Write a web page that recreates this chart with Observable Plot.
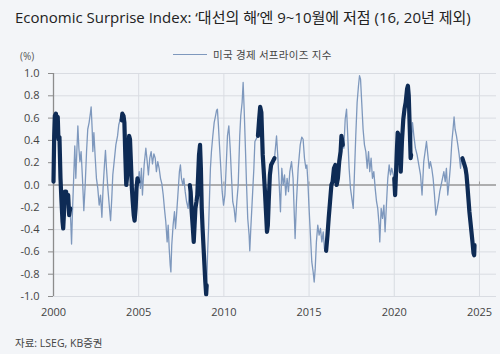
<!DOCTYPE html>
<html>
<head>
<meta charset="utf-8">
<script src="https://cdn.jsdelivr.net/npm/d3@7"></script>
<script src="https://cdn.jsdelivr.net/npm/@observablehq/plot@0.6"></script>
<style>
  body { margin: 0; background: #f3f5f8; }
  #wrap { position: relative; width: 500px; height: 354px; overflow: hidden;
          font-family: "Open Sans", "Noto Sans CJK KR", sans-serif; color: #333; }
  #title { position: absolute; left: 15px; top: 6px; font-size: 15px; white-space: nowrap; color: #222; }
  #unit { position: absolute; left: 20px; top: 49px; font-size: 10px; color: #555; }
  #legend { position: absolute; left: 173px; top: 47px; font-size: 10.5px; color: #444;
            display: flex; align-items: center; white-space: nowrap; letter-spacing: 0.3px; }
  #legend .sw { width: 34px; height: 0; border-top: 1.4px solid #7e98bd; margin-right: 6px; }
  #chart { position: absolute; left: 0; top: 62px; }
  #source { position: absolute; left: 15px; top: 335px; font-size: 10.5px; color: #444; }
</style>
</head>
<body>
<div id="wrap">
  <div id="title">Economic Surprise Index: ‘대선의 해’엔 9~10월에 저점 (16, 20년 제외)</div>
  <div id="unit">(%)</div>
  <div id="legend"><span class="sw"></span><span>미국 경제 서프라이즈 지수</span></div>
  <div id="chart"></div>
  <div id="source">자료: LSEG, KB증권</div>
</div>
<script>
// US economic surprise index (decimal year, index level)
const years = [
  2000.00,2000.04,2000.08,2000.14,2000.20,2000.25,2000.29,2000.35,2000.41,2000.47,2000.53,2000.57,2000.63,2000.67,2000.74,2000.80,2000.86,2000.92,2000.98,
  2001.02,2001.06,2001.12,2001.17,2001.25,2001.31,2001.37,2001.43,2001.49,2001.55,2001.62,2001.70,2001.78,2001.86,2001.94,
  2002.01,2002.09,2002.17,2002.21,2002.27,2002.31,2002.37,2002.45,2002.52,2002.60,2002.68,2002.76,2002.84,2002.91,2002.99,
  2003.05,2003.11,2003.19,2003.27,2003.35,2003.42,2003.48,2003.56,2003.66,2003.76,2003.83,2003.92,
  2004.00,2004.04,2004.11,2004.16,2004.22,2004.27,2004.33,2004.38,2004.44,2004.49,2004.55,2004.60,2004.65,2004.71,2004.76,2004.82,2004.87,2004.93,2004.98,
  2005.03,2005.10,2005.16,2005.22,2005.32,2005.42,2005.50,2005.57,2005.65,2005.73,2005.81,2005.89,2005.97,
  2006.04,2006.12,2006.20,2006.28,2006.36,2006.44,2006.51,2006.59,2006.67,2006.73,2006.79,2006.85,2006.89,2006.94,
  2007.02,2007.10,2007.16,2007.22,2007.30,2007.39,2007.45,2007.51,2007.59,2007.65,2007.73,2007.81,2007.90,
  2008.00,2008.05,2008.11,2008.18,2008.23,2008.28,2008.33,2008.39,2008.44,2008.49,2008.54,2008.60,2008.65,2008.70,2008.75,2008.81,2008.86,2008.91,2008.96,2008.99,
  2009.04,2009.10,2009.16,2009.21,2009.27,2009.35,2009.43,2009.51,2009.57,2009.62,2009.68,2009.74,2009.82,2009.90,2009.98,
  2010.06,2010.13,2010.21,2010.29,2010.37,2010.45,2010.52,2010.60,2010.68,2010.76,2010.84,2010.93,2010.99,
  2011.07,2011.13,2011.19,2011.27,2011.33,2011.40,2011.48,2011.52,2011.58,2011.66,2011.76,2011.82,2011.92,
  2012.00,2012.07,2012.13,2012.20,2012.25,2012.28,2012.33,2012.40,2012.47,2012.53,2012.58,2012.63,2012.70,2012.77,2012.87,2012.97,
  2013.09,2013.16,2013.24,2013.32,2013.40,2013.48,2013.56,2013.63,2013.71,2013.79,2013.87,2013.97,
  2014.06,2014.12,2014.18,2014.26,2014.36,2014.48,2014.57,2014.65,2014.73,2014.81,2014.87,2014.93,
  2015.00,2015.08,2015.16,2015.24,2015.30,2015.36,2015.43,2015.51,2015.59,2015.67,2015.75,2015.83,2015.90,
  2016.00,2016.08,2016.15,2016.23,2016.31,2016.38,2016.46,2016.54,2016.62,2016.69,2016.77,2016.85,2016.90,2016.98,
  2017.04,2017.12,2017.20,2017.27,2017.35,2017.43,2017.51,2017.59,2017.66,2017.74,2017.82,2017.90,2017.96,
  2018.02,2018.09,2018.17,2018.25,2018.33,2018.41,2018.49,2018.56,2018.64,2018.72,2018.80,2018.88,2018.96,
  2019.03,2019.11,2019.15,2019.23,2019.31,2019.39,2019.46,2019.54,2019.62,2019.70,2019.78,2019.85,2019.93,
  2020.00,2020.05,2020.09,2020.15,2020.20,2020.27,2020.35,2020.38,2020.45,2020.53,2020.60,2020.67,2020.75,2020.80,2020.85,2020.91,2020.96,2020.99,
  2021.07,2021.15,2021.24,2021.34,2021.44,2021.54,2021.63,2021.69,2021.73,2021.81,2021.89,2021.97,
  2022.05,2022.12,2022.20,2022.28,2022.36,2022.44,2022.52,2022.59,2022.67,2022.75,2022.83,2022.91,2022.99,
  2023.06,2023.14,2023.22,2023.30,2023.38,2023.45,2023.51,2023.57,2023.65,2023.73,2023.81,2023.89,2023.94,
  2024.00,2024.06,2024.12,2024.18,2024.24,2024.29,2024.35,2024.41,2024.47,2024.53,2024.59,2024.65,2024.69,2024.71
];
const values = [
  0.03,0.44,0.62,0.64,0.59,0.61,0.41,0.43,0.06,-0.15,-0.33,-0.39,-0.21,-0.06,-0.06,-0.15,-0.09,-0.27,-0.21,
  -0.36,-0.53,-0.21,0.00,0.35,0.06,0.30,0.53,0.33,0.21,0.30,0.06,-0.23,0.00,0.30,
  0.50,0.56,0.65,0.70,0.50,0.30,0.47,0.24,0.06,-0.03,-0.18,-0.09,-0.29,-0.03,0.18,
  0.31,0.15,-0.03,-0.18,-0.32,-0.12,0.09,0.21,0.36,0.44,0.54,0.59,
  0.58,0.64,0.62,0.56,0.24,0.00,0.09,0.24,0.44,0.41,0.18,-0.03,-0.15,-0.27,-0.32,-0.21,-0.03,0.06,0.03,
  0.12,-0.03,0.15,-0.09,0.18,0.33,0.21,0.09,0.24,0.30,0.19,0.28,0.24,
  0.12,0.21,0.15,0.06,0.01,-0.09,-0.21,-0.33,-0.51,-0.36,-0.57,-0.72,-0.78,-0.54,
  -0.36,-0.24,-0.39,-0.27,-0.09,0.12,0.18,0.06,0.00,0.06,-0.06,-0.15,-0.21,
  0.00,-0.06,-0.24,-0.39,-0.51,-0.36,-0.21,-0.15,-0.09,0.09,0.27,0.36,0.15,-0.21,-0.39,-0.57,-0.72,-0.87,-0.98,-0.90,
  -0.63,-0.39,-0.09,0.15,0.30,0.44,0.56,0.62,0.67,0.68,0.53,0.36,0.15,-0.06,-0.18,
  -0.09,0.15,0.44,0.53,0.33,0.06,-0.15,-0.21,-0.33,-0.15,0.00,0.44,0.62,
  0.74,0.92,0.68,0.30,0.00,-0.30,-0.45,-0.59,-0.39,-0.15,0.15,0.39,0.42,
  0.44,0.59,0.70,0.65,0.41,0.27,0.15,-0.03,-0.24,-0.42,-0.36,-0.15,0.09,0.18,0.21,0.24,
  0.44,0.27,0.03,-0.24,0.15,0.00,0.09,-0.09,0.06,-0.06,0.12,0.21,
  0.06,-0.21,-0.48,-0.15,0.15,0.36,0.43,0.41,0.24,0.15,0.18,0.03,
  -0.21,-0.45,-0.69,-0.78,-0.87,-0.75,-0.51,-0.36,-0.45,-0.39,-0.51,-0.42,-0.57,
  -0.59,-0.45,-0.30,-0.15,0.00,0.03,0.15,0.18,0.00,0.06,0.21,0.30,0.44,0.36,
  0.33,0.59,0.68,0.44,0.15,-0.03,-0.12,-0.21,0.09,0.44,0.74,0.89,0.98,
  0.95,0.74,0.50,0.36,0.30,0.15,0.30,0.12,0.24,0.06,0.12,-0.03,-0.15,
  -0.21,-0.36,-0.51,-0.21,-0.30,-0.18,-0.42,-0.18,0.06,0.18,0.09,0.15,0.10,
  0.06,-0.09,0.06,0.30,0.47,0.44,0.30,0.12,0.39,0.59,0.68,0.74,0.86,0.89,0.80,0.50,0.24,0.27,
  0.56,0.44,0.33,0.27,0.18,0.09,-0.09,0.09,0.21,0.30,0.39,0.27,
  0.15,0.21,0.15,0.06,-0.09,-0.27,-0.21,-0.15,-0.06,0.00,0.06,0.12,0.03,
  0.15,-0.09,0.03,0.18,0.39,0.50,0.61,0.50,0.44,0.36,0.27,0.15,0.24,
  0.24,0.21,0.18,0.15,0.09,0.00,-0.12,-0.24,-0.33,-0.42,-0.51,-0.61,-0.63,-0.54
];
// Presidential election years, drawn in bold
const electionYears = [2000, 2004, 2008, 2012, 2016, 2020, 2024];
const xTicks = [2000, 2005, 2010, 2015, 2020, 2025];
const yTicks = [-1.0, -0.8, -0.6, -0.4, -0.2, 0.0, 0.2, 0.4, 0.6, 0.8, 1.0];

const series = years.map((year, i) => ({year, value: values[i]}));
const election = series.filter(d => electionYears.includes(Math.floor(d.year + 1e-9)));

const chart = Plot.plot({
  width: 500,
  height: 262,
  marginTop: 11,
  marginBottom: 28,
  marginLeft: 53,
  marginRight: 4,
  style: {background: "transparent", fontFamily: "'Open Sans', 'Noto Sans CJK KR', sans-serif", fontSize: "11px", color: "#444"},
  x: {domain: [2000, 2026], label: null},
  y: {domain: [-1, 1], label: null},
  marks: [
    Plot.gridY(yTicks, {stroke: "#d9dce2", strokeOpacity: 1, strokeWidth: 1}),
    Plot.gridX(xTicks.slice(1), {stroke: "#d9dce2", strokeOpacity: 1, strokeWidth: 1}),
    Plot.ruleY([0], {stroke: "#9a9a9a", strokeWidth: 1.3}),
    Plot.ruleX(xTicks.slice(1), {y1: 0, y2: 0, insetTop: -3, stroke: "#9a9a9a"}),
    Plot.ruleX([2000], {y1: -1, y2: 1, stroke: "#8c8c8c", strokeWidth: 1.3}),
    Plot.axisY(yTicks, {label: null, tickSize: 5, tickPadding: 9, stroke: "#8c8c8c", tickFormat: d => d.toFixed(1), fill: "#444"}),
    Plot.axisX(xTicks, {label: null, tickSize: 0, tickPadding: 12, tickFormat: d => String(d), fill: "#444"}),
    Plot.line(series, {x: "year", y: "value", stroke: "#7e98bd", strokeWidth: 1.3}),
    Plot.line(election, {x: "year", y: "value", z: d => Math.floor(d.year + 1e-9), stroke: "#0e2b55", strokeWidth: 4.2, strokeLinejoin: "round", strokeLinecap: "round"})
  ]
});
document.getElementById("chart").appendChild(chart);
</script>
</body>
</html>
